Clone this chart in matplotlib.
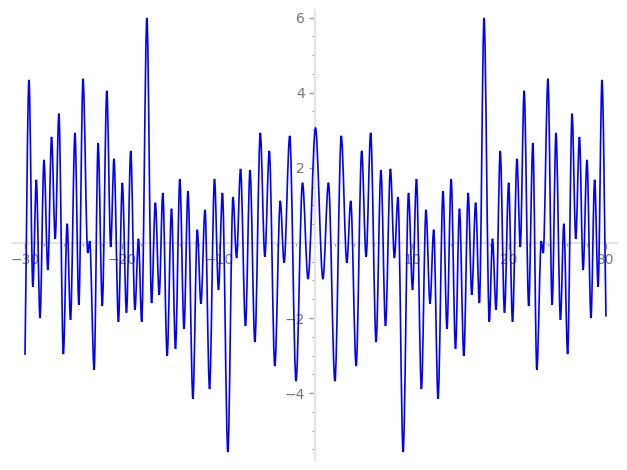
import matplotlib
matplotlib.use('Agg')
import matplotlib.pyplot as plt
from matplotlib.path import Path
from matplotlib.patches import PathPatch
from matplotlib.ticker import MultipleLocator, FixedLocator

# turning points of the curve (x, y)
x_vals = [
    -30.0, -29.59, -29.19, -28.83, -28.45, -28.04, -27.64, -27.26, -26.88, -26.50,
    -26.04, -25.65, -25.30, -24.84, -24.44, -24.01, -23.52, -23.32, -22.86, -22.45,
    -22.02, -21.55, -21.15, -20.81, -20.35, -19.95, -19.52, -19.08, -18.65, -18.28,
    -17.95, -17.41, -16.93, -16.54, -16.14, -15.77, -15.32, -14.87, -14.46, -14.01,
    -13.58, -13.17, -12.66, -12.21, -11.83, -11.41, -10.94, -10.43, -10.02, -9.61,
    -9.05, -8.52, -8.15, -7.74, -7.23, -6.76, -6.26, -5.70, -5.23, -4.77,
    -4.20, -3.64, -3.24, -2.66, -2.01, -1.34, -0.77, 0.0,
    0.77, 1.34, 2.01, 2.66, 3.24, 3.64, 4.20, 4.77, 5.23, 5.70,
    6.26, 6.76, 7.23, 7.74, 8.15, 8.52, 9.05, 9.61, 10.02, 10.43,
    10.94, 11.41, 11.83, 12.21, 12.66, 13.17, 13.58, 14.01, 14.46, 14.87,
    15.32, 15.77, 16.14, 16.54, 16.93, 17.41, 17.95, 18.28, 18.65, 19.08,
    19.52, 19.95, 20.35, 20.81, 21.15, 21.55, 22.02, 22.45, 22.86, 23.32,
    23.52, 24.01, 24.44, 24.84, 25.30, 25.65, 26.04, 26.50, 26.88, 27.26,
    27.64, 28.04, 28.45, 28.83, 29.19, 29.59, 30.0,
]
y_vals = [
    -2.98, 4.34, -1.17, 1.68, -2.00, 2.21, -0.72, 2.82, 0.11, 3.44,
    -2.96, 0.51, -2.05, 2.93, -1.65, 4.37, -0.27, 0.05, -3.38, 2.66,
    -1.68, 4.05, -0.11, 2.24, -2.10, 1.60, -1.86, 2.45, -1.78, 0.11,
    -2.10, 5.99, -1.60, 1.07, -1.38, 1.33, -3.01, 0.91, -2.82, 1.70,
    -2.29, 1.38, -4.15, 0.35, -1.62, 0.88, -3.89, 1.70, -1.25, 1.33,
    -5.57, 1.22, -0.40, 1.97, -2.21, 1.94, -2.64, 2.93, -0.37, 2.45,
    -3.28, 1.12, -0.53, 2.85, -3.68, 1.60, -0.96, 3.06,
    -0.96, 1.60, -3.68, 2.85, -0.53, 1.12, -3.28, 2.45, -0.37, 2.93,
    -2.64, 1.94, -2.21, 1.97, -0.40, 1.22, -5.57, 1.33, -1.25, 1.70,
    -3.89, 0.88, -1.62, 0.35, -4.15, 1.38, -2.29, 1.70, -2.82, 0.91,
    -3.01, 1.33, -1.38, 1.07, -1.60, 5.99, -2.10, 0.11, -1.78, 2.45,
    -1.86, 1.60, -2.10, 2.24, -0.11, 4.05, -1.68, 2.66, -3.38, 0.05,
    -0.27, 4.37, -1.65, 2.93, -2.05, 0.51, -2.96, 3.44, 0.11, 2.82,
    -0.72, 2.21, -2.00, 1.68, -1.17, 4.34, -1.96,
]
x_ticks = [-30, -20, -10, 10, 20, 30]
y_ticks = [-4, -2, 2, 4, 6]


def turning_point_path(xs, ys):
    """Bezier path through the turning points, flat tangent at each one."""
    verts = [(xs[0], ys[0])]
    codes = [Path.MOVETO]
    last = len(xs) - 1
    for i in range(last):
        x0, y0, x1, y1 = xs[i], ys[i], xs[i + 1], ys[i + 1]
        dx = x1 - x0
        # the two end points of the curve are not turning points
        c1 = (x0 + dx / 3, y0 + (y1 - y0) / 3) if i == 0 else (x0 + dx / 3, y0)
        c2 = (x1 - dx / 3, y1 - (y1 - y0) / 3) if i + 1 == last else (x1 - dx / 3, y1)
        verts += [c1, c2, (x1, y1)]
        codes += [Path.CURVE4] * 3
    return Path(verts, codes)


fig = plt.figure(figsize=(6.27, 4.70), dpi=100)
ax = fig.add_axes([13 / 627, 10 / 470, 604 / 627, 450 / 470])

ax.add_patch(PathPatch(turning_point_path(x_vals, y_vals), fill=False,
                       edgecolor='#0000ff', linewidth=1.2, zorder=3))

ax.set_xlim(-31.24, 31.14)
ax.set_ylim(-5.78, 6.2)

# axes crossing at the origin, sage style
for side in ['top', 'right']:
    ax.spines[side].set_visible(False)
ax.spines['left'].set_position(('data', 0))
ax.spines['bottom'].set_position(('data', 0))
for side in ['left', 'bottom']:
    ax.spines[side].set_color('#e4e4e4')
    ax.spines[side].set_linewidth(1.6)

ax.xaxis.set_major_locator(FixedLocator(x_ticks))
ax.yaxis.set_major_locator(FixedLocator(y_ticks))
ax.xaxis.set_minor_locator(MultipleLocator(2))
ax.yaxis.set_minor_locator(MultipleLocator(0.5))
ax.tick_params(which='major', length=4, width=1, color='#999999',
               labelcolor='#777777', labelsize=10)
ax.tick_params(which='minor', length=2, width=0.8, color='#999999')
ax.patch.set_alpha(0)

fig.savefig('out.png', dpi=100)
